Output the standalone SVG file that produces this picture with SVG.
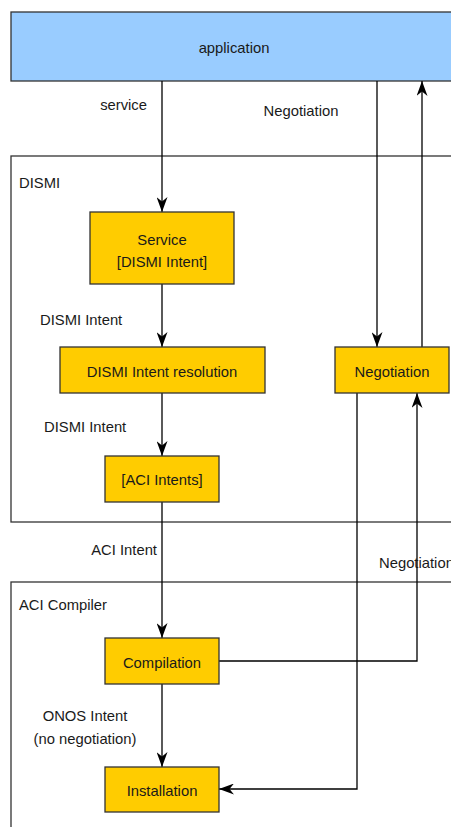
<svg xmlns="http://www.w3.org/2000/svg" width="451" height="827" viewBox="0 0 451 827">
  <style>
    text { font-family: "Liberation Sans", Arial, sans-serif; font-size: 14.8px; fill: #1a1a1a; }
    .c { text-anchor: middle; }
    .e { text-anchor: end; }
    .box { fill: #FFCC00; stroke: #333333; stroke-width: 1.3; }
    .cont { fill: #FFFFFF; stroke: #333333; stroke-width: 1.3; }
    .app { fill: #99CCFF; stroke: #333333; stroke-width: 1.3; }
    .edge { fill: none; stroke: #000000; stroke-width: 1.3; }
  </style>
  <defs>
    <marker id="arr" viewBox="0 0 15 11" refX="15" refY="5.5" markerWidth="15" markerHeight="11" markerUnits="userSpaceOnUse" orient="auto">
      <path d="M0,0 L15,5.5 L0,11 L4.5,5.5 z" fill="#000000"/>
    </marker>
  </defs>
  <rect width="451" height="827" fill="#FFFFFF"/>

  <g id="application">
    <rect class="app" x="11" y="12" width="460" height="69"/>
    <text class="c" x="234" y="53">application</text>
  </g>
  <g id="dismi">
    <rect class="cont" x="11" y="156" width="460" height="366"/>
    <text x="19" y="188">DISMI</text>
  </g>
  <g id="aci-compiler">
    <rect class="cont" x="11" y="582" width="460" height="260"/>
    <text x="19" y="610">ACI Compiler</text>
  </g>

  <g id="connectors">
    <path class="edge" d="M162,81 V212" marker-end="url(#arr)"/>
    <path class="edge" d="M377,81 V347" marker-end="url(#arr)"/>
    <path class="edge" d="M422,347 V81" marker-end="url(#arr)"/>
    <path class="edge" d="M162,284 V347" marker-end="url(#arr)"/>
    <path class="edge" d="M162,393 V456" marker-end="url(#arr)"/>
    <path class="edge" d="M162,502 V638" marker-end="url(#arr)"/>
    <path class="edge" d="M162,684 V767" marker-end="url(#arr)"/>
    <path class="edge" d="M357,393 V789 H219" marker-end="url(#arr)"/>
    <path class="edge" d="M219,661 H417 V393" marker-end="url(#arr)"/>
    <text class="e" x="147" y="110">service</text>
    <text class="c" x="301" y="116">Negotiation</text>
    <text x="40" y="325">DISMI Intent</text>
    <text x="44" y="432">DISMI Intent</text>
    <text class="e" x="157" y="555">ACI Intent</text>
    <text x="379" y="568">Negotiation</text>
    <text class="c" x="85" y="721">ONOS Intent</text>
    <text class="c" x="85" y="744">(no negotiation)</text>
  </g>

  <g id="service">
    <rect class="box" x="90" y="212" width="144" height="72"/>
    <text class="c" x="162" y="245">Service</text>
    <text class="c" x="162" y="267">[DISMI Intent]</text>
  </g>
  <g id="resolution">
    <rect class="box" x="60" y="347" width="205" height="46"/>
    <text class="c" x="162" y="377">DISMI Intent resolution</text>
  </g>
  <g id="negotiation">
    <rect class="box" x="335" y="347" width="114" height="46"/>
    <text class="c" x="392" y="377">Negotiation</text>
  </g>
  <g id="aci-intents">
    <rect class="box" x="105" y="456" width="114" height="46"/>
    <text class="c" x="162" y="485">[ACI Intents]</text>
  </g>
  <g id="compilation">
    <rect class="box" x="105" y="638" width="114" height="46"/>
    <text class="c" x="162" y="668">Compilation</text>
  </g>
  <g id="installation">
    <rect class="box" x="105" y="767" width="114" height="45"/>
    <text class="c" x="162" y="796">Installation</text>
  </g>
</svg>
